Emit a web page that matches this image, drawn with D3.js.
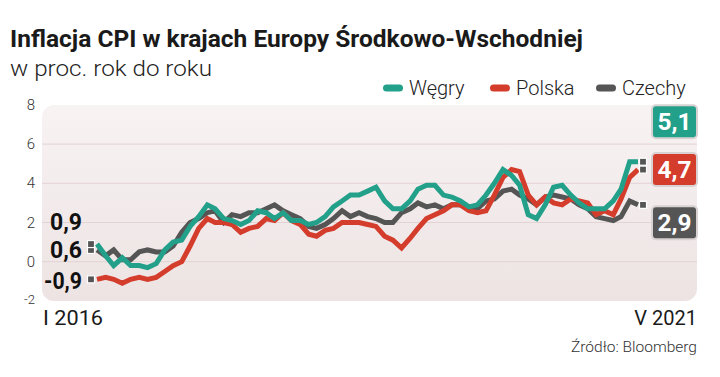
<!DOCTYPE html>
<html>
<head>
<meta charset="utf-8">
<script src="https://cdn.jsdelivr.net/npm/d3@7"></script>
<style>
  body { margin: 0; background: #fff; }
  svg { display: block; font-family: Roboto, "Noto Sans", sans-serif; }
</style>
</head>
<body>
<svg id="chart" width="720" height="377"></svg>
<script>
// monthly CPI y/y, I 2016 - V 2021
const hungary = [
  0.9, 0.3, -0.2, 0.2, -0.2, -0.2, -0.3, -0.1, 0.6, 1.0, 1.1, 1.8,
  2.3, 2.9, 2.7, 2.2, 2.1, 1.9, 2.1, 2.6, 2.5, 2.2, 2.5, 2.1,
  2.1, 1.9, 2.0, 2.3, 2.8, 3.1, 3.4, 3.4, 3.6, 3.8, 3.1, 2.7,
  2.7, 3.1, 3.7, 3.9, 3.9, 3.4, 3.3, 3.1, 2.8, 2.9, 3.4, 4.0,
  4.7, 4.4, 3.9, 2.4, 2.2, 2.9, 3.8, 3.9, 3.4, 3.0, 2.7, 2.7,
  2.7, 3.1, 3.7, 5.1, 5.1
];
const poland = [
  -0.9, -0.8, -0.9, -1.1, -0.9, -0.8, -0.9, -0.8, -0.5, -0.2, 0.0, 0.8,
  1.7, 2.2, 2.0, 2.0, 1.9, 1.5, 1.7, 1.8, 2.2, 2.1, 2.5, 2.1,
  1.9, 1.4, 1.3, 1.6, 1.7, 2.0, 2.0, 2.0, 1.9, 1.8, 1.3, 1.1,
  0.7, 1.2, 1.7, 2.2, 2.4, 2.6, 2.9, 2.9, 2.6, 2.5, 2.6, 3.4,
  4.3, 4.7, 4.6, 3.4, 2.9, 3.3, 3.0, 2.9, 3.2, 3.1, 3.0, 2.4,
  2.6, 2.4, 3.2, 4.3, 4.7
];
const czechia = [
  0.6, 0.3, 0.6, 0.1, 0.1, 0.5, 0.6, 0.5, 0.5, 0.8, 1.5, 2.0,
  2.2, 2.5, 2.6, 2.0, 2.4, 2.3, 2.5, 2.5, 2.7, 2.9, 2.6, 2.4,
  2.2, 1.8, 1.7, 1.9, 2.2, 2.6, 2.3, 2.5, 2.3, 2.2, 2.0, 2.0,
  2.5, 2.7, 3.0, 2.8, 2.9, 2.7, 2.9, 2.9, 2.7, 2.7, 3.1, 3.2,
  3.6, 3.7, 3.4, 3.2, 2.9, 3.3, 3.4, 3.3, 3.2, 2.9, 2.7, 2.3,
  2.2, 2.1, 2.3, 3.1, 2.9
];
const yTicks = [8, 6, 4, 2, 0, -2];
const xLabels = ["I 2016", "V 2021"];

const months = d3.timeMonth.range(new Date(2016, 0, 1), new Date(2021, 5, 1));

const series = [
  { name: "Czechy", values: czechia, color: "#555555" },
  { name: "Polska", values: poland, color: "#d43c2c" },
  { name: "Węgry", values: hungary, color: "#23a08a" }
];
const legendOrder = ["Węgry", "Polska", "Czechy"];

const svg = d3.select("#chart");

const x = d3.scaleTime()
  .domain([months[0], months[months.length - 1]])
  .range([97, 638]);
const y = d3.scaleLinear().domain([-2, 8]).range([300.9, 104.9]);

// title
svg.append("text")
  .attr("x", 10).attr("y", 47)
  .attr("font-size", 23).attr("font-weight", 700).attr("fill", "#1a1a1a")
  .attr("textLength", 573).attr("lengthAdjust", "spacingAndGlyphs")
  .text("Inflacja CPI w krajach Europy Środkowo-Wschodniej");
svg.append("text")
  .attr("x", 10).attr("y", 76)
  .attr("font-size", 22).attr("font-weight", 300).attr("fill", "#222")
  .attr("textLength", 202).attr("lengthAdjust", "spacingAndGlyphs")
  .text("w proc. rok do roku");

// legend
const legendX = { "Węgry": 383, "Polska": 490, "Czechy": 596 };
legendOrder.forEach(name => {
  const s = series.find(d => d.name === name);
  const g = svg.append("g").attr("transform", `translate(${legendX[name]},88)`);
  g.append("rect").attr("x", 0).attr("y", -3.5).attr("width", 20).attr("height", 7)
    .attr("rx", 3.5).attr("fill", s.color);
  g.append("text").attr("x", 26).attr("y", 7)
    .attr("font-size", 20).attr("font-weight", 300).attr("fill", "#222")
    .text(name);
});

// plot background
const defs = svg.append("defs");
const grad = defs.append("linearGradient").attr("id", "bg")
  .attr("x1", 0).attr("y1", 0).attr("x2", 0).attr("y2", 1);
grad.append("stop").attr("offset", "0%").attr("stop-color", "#f8f3f3");
grad.append("stop").attr("offset", "100%").attr("stop-color", "#ede3e3");

svg.append("rect")
  .attr("x", 42).attr("y", y(8))
  .attr("width", 655).attr("height", y(-2) - y(8))
  .attr("rx", 12).attr("fill", "url(#bg)");

// grid
svg.append("g").selectAll("line")
  .data(yTicks.filter(t => t > -2 && t < 8))
  .join("line")
  .attr("x1", 42).attr("x2", 697)
  .attr("y1", d => y(d)).attr("y2", d => y(d))
  .attr("stroke", "#e3d3d4").attr("stroke-width", 1);

// y tick labels
svg.append("g").selectAll("text")
  .data(yTicks)
  .join("text")
  .attr("x", 35)
  .attr("y", d => d === -2 ? y(d) + 3 : y(d) + 5)
  .attr("text-anchor", "end")
  .attr("font-size", d => d === -2 ? 13 : 15)
  .attr("font-weight", 300)
  .attr("fill", "#333")
  .text(d => d);

// lines
const line = d3.line()
  .x((d, i) => x(months[i]))
  .y(d => y(d));

svg.append("g").selectAll("path")
  .data(series)
  .join("path")
  .attr("d", d => line(d.values))
  .attr("fill", "none")
  .attr("stroke", d => d.color)
  .attr("stroke-width", 5)
  .attr("stroke-linejoin", "miter")
  .attr("stroke-linecap", "butt");

// end markers
const last = months.length - 1;
function marker(px, py) {
  svg.append("rect")
    .attr("x", px - 3.5).attr("y", py - 3.5)
    .attr("width", 7).attr("height", 7)
    .attr("fill", "#555").attr("stroke", "#fff").attr("stroke-width", 1.2);
}
series.forEach(s => {
  marker(x(months[0]) - 6, y(s.values[0]));
  marker(x(months[last]) + 5, y(s.values[last]));
});

// start value labels (right-aligned left of the lines)
const fmt = v => d3.format(".1f")(v).replace(".", ",").replace("−", "-");
const startLabelY = { "Węgry": -14, "Czechy": 8, "Polska": 10 };
series.forEach(s => {
  svg.append("text")
    .attr("x", 82)
    .attr("y", y(s.values[0]) + startLabelY[s.name])
    .attr("text-anchor", "end")
    .attr("font-size", 24).attr("font-weight", 700).attr("fill", "#111")
    .attr("textLength", s.values[0] < 0 ? 38 : 32).attr("lengthAdjust", "spacingAndGlyphs")
    .text(fmt(s.values[0]));
});

// end value boxes
const endOffset = { "Węgry": -40, "Polska": 0, "Czechy": 18 };
series.forEach(s => {
  const cy = y(s.values[last]) + endOffset[s.name];
  const g = svg.append("g").attr("transform", `translate(674.5,${cy})`);
  g.append("rect")
    .attr("x", -22.5).attr("y", -16.5).attr("width", 45).attr("height", 33)
    .attr("rx", 4).attr("fill", s.color)
    .attr("stroke", "#d9d2d2").attr("stroke-width", 2);
  g.append("text")
    .attr("y", 8.5).attr("text-anchor", "middle")
    .attr("font-size", 24).attr("font-weight", 700).attr("fill", "#fff")
    .attr("textLength", 34).attr("lengthAdjust", "spacingAndGlyphs")
    .text(fmt(s.values[last]));
});

// x labels
svg.append("text")
  .attr("x", 43).attr("y", 325)
  .attr("font-size", 20).attr("font-weight", 400).attr("fill", "#1a1a1a")
  .attr("textLength", 60).attr("lengthAdjust", "spacingAndGlyphs")
  .text(xLabels[0]);
svg.append("text")
  .attr("x", 697).attr("y", 325).attr("text-anchor", "end")
  .attr("font-size", 20).attr("font-weight", 400).attr("fill", "#1a1a1a")
  .text(xLabels[1]);

// source
svg.append("text")
  .attr("x", 697).attr("y", 352).attr("text-anchor", "end")
  .attr("font-size", 15).attr("font-weight", 300).attr("fill", "#333")
  .attr("textLength", 126).attr("lengthAdjust", "spacingAndGlyphs")
  .text("Źródło: Bloomberg");
</script>
</body>
</html>
